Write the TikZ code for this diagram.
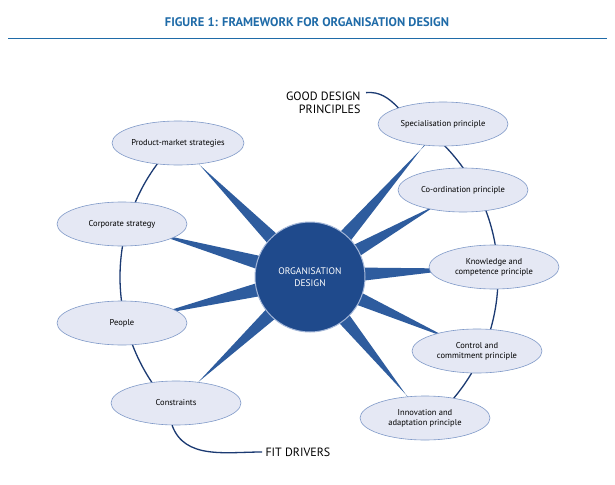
\documentclass[tikz,border=0pt]{standalone}
\usepackage{fontspec}
\setmainfont{PT Sans}
\usetikzlibrary{calc,shapes.geometric,arrows.meta}
\definecolor{spk}{HTML}{2E5C9E}
\definecolor{hub}{HTML}{1F4A8C}
\definecolor{ell}{HTML}{E5E8F4}
\definecolor{elb}{HTML}{7F99C8}
\definecolor{arc}{HTML}{1B3A72}
\definecolor{ttl}{HTML}{1F6BA8}
\begin{document}
\begin{tikzpicture}[x=1pt,y=-1pt,
  box/.style={ellipse,draw=elb,fill=ell,line width=0.6pt,minimum width=130pt,minimum height=44pt,inner sep=0pt,align=center,font=\fontsize{8.5}{10}\selectfont,text=black},
  lbl/.style={font=\fontsize{12}{13}\selectfont,text=black,align=right}]
\useasboundingbox (0,0) rectangle (615,484);
\fill[white] (0,0) rectangle (615,484);
\node[font=\bfseries\fontsize{12.5}{13}\selectfont,text=ttl] (title) at (307,22) {FIGURE 1: FRAMEWORK FOR ORGANISATION DESIGN};
\draw[ttl,line width=0.8pt] (8,38) coordinate (l1) -- (607,38) coordinate (l2);
\coordinate (C) at (310,277);
\coordinate (p1) at (178,143); \coordinate (p2) at (122,224); \coordinate (p3) at (122,323); \coordinate (p4) at (176,403);
\coordinate (q1) at (443,124); \coordinate (q2) at (463,190); \coordinate (q3) at (494,267); \coordinate (q4) at (477,351); \coordinate (q5) at (425,418);
\draw[arc,line width=1.3pt] ($(C)+(-134:190)$) arc[start angle=-134,end angle=-224,radius=190];
\draw[arc,line width=1.3pt] ($(C)+(-50:188)$) arc[start angle=-50,end angle=52,radius=188];
\foreach \t in {p1,p2,p3,p4,q1,q2,q3,q4,q5}{
  \fill[spk] ($(C)!10pt!90:(\t)$) -- ($(\t)!2pt!90:(C)$) -- ($(\t)!2pt!-90:(C)$) -- ($(C)!10pt!-90:(\t)$) -- cycle;}
\node[circle,fill=hub,draw=elb!70,line width=1pt,minimum size=110pt,text=white,align=center,font=\fontsize{9.5}{12}\selectfont] (hubn) at (C) {ORGANISATION\\DESIGN};
\node[box] (a1) at (p1) {Product-market strategies};
\node[box] (a2) at (p2) {Corporate strategy};
\node[box] (a3) at (p3) {People};
\node[box] (a4) at (p4) {Constraints};
\node[box] (b1) at (q1) {Specialisation principle};
\node[box] (b2) at (q2) {Co-ordination principle};
\node[box] (b3) at (q3) {Knowledge and\\competence principle};
\node[box] (b4) at (q4) {Control and\\commitment principle};
\node[box] (b5) at (q5) {Innovation and\\adaptation principle};
\node[lbl,anchor=east] (gd) at (364,103) {GOOD DESIGN\\PRINCIPLES};
\node[lbl,anchor=west] (fd) at (262,452) {FIT DRIVERS};
\draw[arc,line width=1.3pt] (gd.north east) ++(2,4) coordinate (g0) to[out=5,in=135] (b1.160);
\draw[arc,line width=1.3pt] (a4.-100) to[out=-70,in=180] (fd.west);
\end{tikzpicture}
\end{document}
